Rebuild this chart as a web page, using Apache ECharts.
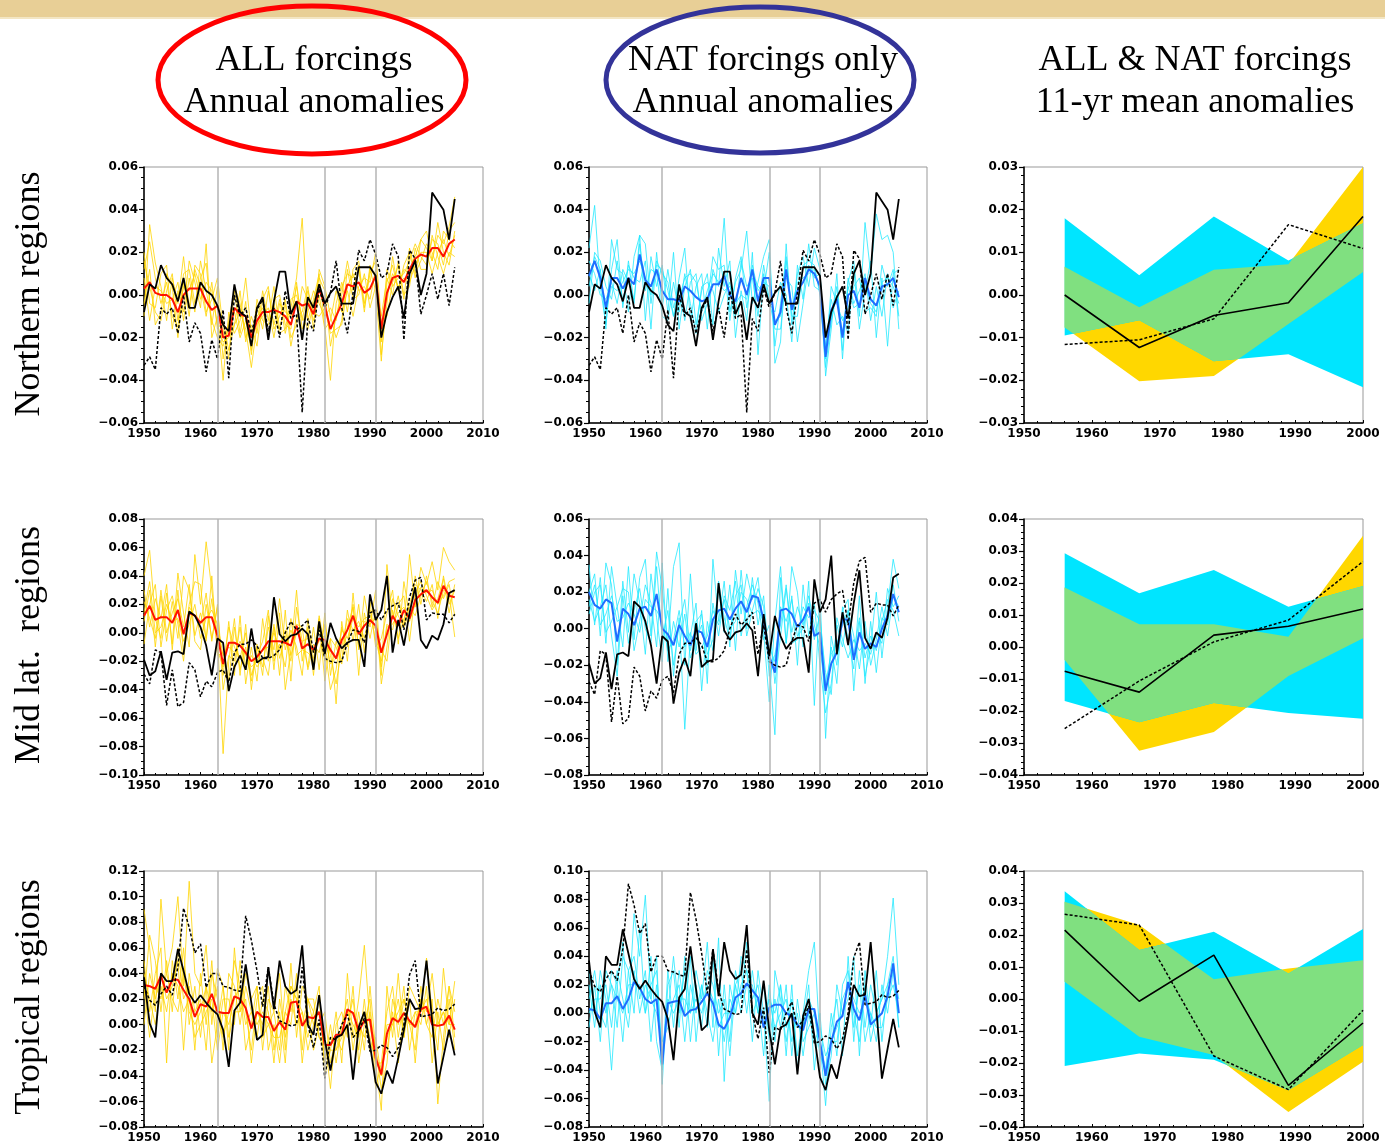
<!DOCTYPE html>
<html><head><meta charset="utf-8">
<script src="https://cdn.jsdelivr.net/npm/echarts@6/dist/echarts.min.js"></script>
<style>html,body{margin:0;padding:0;background:#fff}#chart{width:1385px;height:1146px}</style>
</head><body><div id="chart"></div>
<script>
// ---------- annual series (1950-2005) ----------
const years = Array.from({length:56},(_, i)=>1950+i);
const volcanoYears = [1963, 1982, 1991];

// Row 1: Northern regions
const r1ObsA = [-.008,.005,.003,.014,.008,.005,-.003,.008,-.006,-.006,
 .006,.002,.000,-.005,-.014,-.017,.005,-.008,-.010,-.024,
 -.006,-.001,-.021,-.003,.011,.011,-.009,-.003,-.021,-.001,
 -.006,.005,-.004,.001,.004,-.004,-.004,-.004,.013,.013,
 .013,.009,-.020,-.008,-.001,.004,-.011,.010,.016,.000,
 .010,.048,.044,.040,.026,.045];
const r1ObsB = [-.033,-.029,-.035,-.006,-.009,-.006,-.018,.000,-.022,-.013,
 -.018,-.036,-.021,-.030,-.007,-.039,.000,-.010,-.006,-.018,
 -.007,-.002,-.017,-.006,-.020,.002,-.011,-.009,-.055,-.011,
 -.017,.003,-.006,.001,.016,-.006,-.018,.001,.021,.016,
 .026,.019,.008,.010,.024,.018,-.021,.021,.017,-.009,
 .000,.010,-.002,.010,-.005,.013];
const r1AllMean = [.003,.006,.001,0,0,-.002,-.008,0,.003,.003,
 .003,-.003,-.007,-.005,-.020,-.019,-.006,-.009,-.010,-.020,
 -.012,-.008,-.008,-.007,-.008,-.010,-.014,-.003,-.005,-.004,
 -.009,.003,-.005,-.016,-.010,-.004,.005,.004,.006,.001,
 .003,.009,-.016,.001,.008,.009,.006,.012,.017,.019,
 .018,.022,.022,.018,.024,.026];
const r1All1 = [.012,.025,.008,-.004,.006,-.010,-.015,.010,.012,-.004,
 .008,.015,-.014,.004,-.030,-.012,.002,-.018,-.003,-.028,
 -.005,-.016,.002,-.014,-.002,-.018,-.006,.008,.036,-.012,
 -.002,.010,-.015,-.040,-.004,.006,-.008,.012,.016,-.006,
 .010,.016,-.028,-.004,.018,.002,.014,.020,.008,.026,
 .030,.016,.028,.024,.032,.046];
const r1All2 = [-.010,.033,.015,.004,-.012,.008,-.004,.018,-.006,.012,
 .004,-.010,.006,-.016,-.012,-.026,-.014,.002,-.022,-.010,
 -.018,.002,-.012,.004,-.016,-.004,-.024,-.010,-.008,.004,
 -.016,.012,.004,-.010,-.020,-.012,.012,-.002,.000,.010,
 -.006,.004,-.010,.008,.000,.016,.000,.004,.022,.012,
 .012,.028,.018,.010,.020,.018];
const r1All3 = [.020,-.004,-.006,.010,.014,-.016,.002,-.008,.016,.006,
 -.006,.024,-.020,-.010,-.040,-.008,-.018,-.012,.008,-.018,
 -.010,-.006,-.020,-.002,.000,-.014,-.016,.006,-.016,-.008,
 .002,-.004,-.010,-.006,-.012,.004,.010,.008,.014,-.004,
 .012,.002,-.031,.006,.014,.002,.012,.010,.018,.026,
 .022,.016,.034,.020,.014,.030];
const r1All4 = [-.004,.012,-.014,-.008,.010,.004,-.020,.006,-.010,.014,
 .010,-.008,-.002,.008,-.016,-.030,.004,-.004,-.020,-.014,
 -.024,-.002,.004,-.016,-.010,-.002,-.020,-.014,.004,-.002,
 -.012,.000,-.016,-.012,.002,-.008,.002,-.010,.004,.008,
 .006,.020,-.012,-.010,.006,.014,-.002,.022,.010,.016,
 .024,.020,.012,.030,.026,.022];
const r1All5 = [.008,-.012,.004,.002,-.004,-.002,.006,-.012,.008,-.008,
 .016,.002,-.012,-.020,-.024,-.014,-.008,-.020,-.012,-.026,
 -.002,-.012,-.014,-.004,-.018,-.016,-.002,.000,-.010,-.016,
 -.004,.008,.002,-.024,-.010,.000,.016,.002,.012,-.008,
 .014,.008,-.022,.012,.004,.008,.010,.016,.024,.018,
 .014,.026,.024,.014,.030,.034];
const r1All6 = [.016,.004,-.008,-.012,.002,.010,-.012,.004,.002,.010,
 -.002,.006,.002,-.014,-.022,-.020,-.014,-.008,-.016,-.034,
 -.014,-.010,-.006,-.020,-.004,-.008,-.010,.004,-.012,.002,
 -.008,-.010,-.006,-.018,-.016,-.014,.004,.010,.002,.004,
 -.002,.012,-.018,.000,.010,.004,.008,.006,.014,.020,
 .020,.010,.020,.026,.018,.028];
const r1NatMean = [.009,.016,.008,-.006,.008,.008,.003,.008,.005,.019,
 .007,.004,.012,.002,-.002,-.002,-.003,.004,.002,-.001,
 -.003,-.002,.005,.005,.009,.000,-.003,.008,.000,.012,
 -.003,.008,.008,-.014,-.008,.012,-.007,.002,.006,.012,
 .010,.004,-.029,-.007,-.002,-.020,.000,.002,-.006,.008,
 -.002,-.005,.004,.005,.008,-.001];
const r1Nat1 = [.022,.042,.004,-.014,.012,.026,-.006,.016,-.004,.028,
 .024,-.004,.016,.010,.006,-.010,.008,.022,-.012,.004,
 .010,-.016,.012,.004,.036,-.008,.006,.012,.030,-.004,
 .006,.018,.026,-.032,-.022,.024,-.014,.010,.018,.004,
 .022,.012,-.038,-.016,.010,-.030,.006,.016,-.010,.034,
 .010,.038,.026,.028,.020,-.016];
const r1Nat2 = [.010,.002,.012,-.016,.026,.012,.010,-.008,.018,.028,
 -.012,.018,.004,.014,-.008,.020,-.016,.004,.012,-.014,
 .002,.010,-.014,.022,.004,.016,-.020,.002,-.012,.020,
 -.028,.010,-.004,-.008,.006,.000,-.022,.014,-.002,.024,
 .004,.002,-.024,-.002,-.014,-.010,-.018,.012,-.016,.002,
 .016,-.020,.008,-.024,.010,.012];
const r1Nat3 = [-.004,.020,.016,.004,-.002,.016,-.004,.014,.008,.006,
 .016,-.016,.020,-.006,.012,-.006,.004,-.012,.006,.010,
 -.012,-.004,.018,.012,.014,-.012,.008,.018,-.006,.010,
 .004,.002,.020,-.024,-.004,.018,-.010,-.010,.014,.016,
 .014,.000,-.034,-.012,.004,-.026,.008,-.004,.002,.010,
 -.012,.004,-.010,.010,-.006,.002];
const r1Nat4 = [.016,.010,.000,-.002,.006,-.004,.012,.006,-.002,.024,
 .002,.012,.010,-.010,-.012,.006,-.008,.010,-.004,-.018,
 .004,.006,.002,-.008,.000,.006,-.010,.016,.004,.008,
 -.010,.014,-.002,-.016,-.016,.008,.004,-.022,-.004,.014,
 .008,.010,-.030,.004,-.004,-.012,-.006,.004,.008,-.008,
 -.006,-.010,.014,.004,.012,-.010];
const r1Nat5 = [.004,.018,.012,-.008,.004,.002,.006,.012,.010,.016,
 .008,.000,.014,.012,.002,-.010,-.002,.008,.010,.006,
 -.008,.002,.010,.006,.002,.004,-.004,.000,-.002,.014,
 .002,.006,.004,-.012,-.010,.016,-.006,.006,.008,.010,
 .012,.002,-.026,-.012,.000,-.018,.004,-.006,-.004,.006,
 -.004,-.008,.006,.008,.004,-.004];

// Row 2: Mid latitude regions
const r2ObsA = [-.019,-.030,-.027,-.013,-.033,-.014,-.013,-.015,.015,.012,
 .004,-.009,-.030,-.004,-.007,-.041,-.024,-.016,-.026,.003,
 -.021,-.018,-.017,.025,-.001,-.006,-.002,-.001,.003,-.001,
 -.026,.008,-.015,.007,-.004,-.011,-.007,-.005,-.005,-.024,
 .027,.009,.016,.040,-.014,.009,-.009,.014,.032,-.005,
 -.011,-.002,-.005,.006,.028,.030];
const r2ObsB = [-.029,-.036,-.012,-.014,-.051,-.026,-.052,-.049,-.021,-.026,
 -.045,-.034,-.038,-.028,-.026,-.035,-.014,-.008,-.008,-.005,
 -.009,-.018,-.018,-.016,-.012,.000,.008,.002,.005,.009,
 -.014,.002,-.018,-.020,-.021,-.020,-.007,.002,.001,-.007,
 .014,.016,.009,.016,.019,.021,.002,.025,.037,.039,
 .009,.014,.013,.013,.007,.013];
const r2AllMean = [.012,.019,.009,.011,.011,.007,.016,-.001,.014,.012,
 .007,.011,.011,-.002,-.022,-.007,-.007,-.009,-.014,-.020,
 -.017,-.012,-.006,-.006,-.006,-.007,-.009,.005,-.011,-.008,
 -.012,-.004,-.005,-.012,-.018,-.005,.002,.012,-.001,.005,
 .009,.005,-.014,-.001,.012,.005,.016,.010,.023,.027,
 .030,.025,.021,.033,.026,.025];
const r2All1 = [.040,.058,.010,-.004,.028,-.008,.042,.014,-.010,.055,
 .020,.064,.030,-.002,-.085,-.020,.010,-.030,.006,-.040,
 -.008,-.030,.012,-.026,.014,-.040,-.012,.030,-.020,.004,
 -.030,.010,-.034,-.004,-.050,.008,-.020,.028,-.012,.026,
 .004,.030,-.030,.048,.010,.026,.004,.055,.018,.046,
 .034,.050,.030,.060,.050,.044];
const r2All2 = [.008,.030,-.010,.026,-.006,.022,-.004,.040,.030,-.006,
 -.012,.020,-.004,.018,-.030,.008,-.030,.012,-.036,-.010,
 -.034,.010,-.020,.006,-.030,.016,-.034,.018,-.006,-.024,
 .004,-.026,.014,-.030,-.006,-.020,.016,-.006,.020,-.014,
 .022,-.010,-.004,.014,.030,-.008,.036,.012,.040,.020,
 .040,.018,.036,.024,.034,.012];
const r2All3 = [.030,.004,.024,.010,.034,-.012,.030,-.014,.020,.036,
 .034,-.006,.040,-.016,-.014,-.034,.004,-.026,-.010,-.034,
 -.010,-.024,.004,-.012,.024,-.012,.002,-.010,-.030,.010,
 -.022,.012,-.010,-.040,-.026,.004,-.010,.020,-.030,.014,
 -.004,.016,-.036,-.010,.024,.012,.004,.020,.034,.030,
 .022,.034,.010,.040,.020,.030];
const r2All4 = [-.008,.020,.034,-.010,.016,.026,.006,-.020,.018,.012,
 .006,.028,-.006,.020,-.040,-.016,-.020,.004,-.024,-.016,
 -.024,-.018,-.030,.004,-.018,-.002,-.020,.006,.004,-.026,
 -.008,-.014,.006,-.016,-.036,-.010,.010,.002,.008,-.004,
 .016,-.006,-.020,.006,.002,.020,.026,-.006,.028,.036,
 .026,.016,.024,.038,.014,.034];
const r2All5 = [.022,.010,-.004,.030,.000,.014,.024,.004,.034,-.002,
 .014,-.004,.024,-.012,-.024,.004,-.010,-.018,.000,-.030,
 -.016,-.006,.016,-.020,-.008,-.024,.010,-.016,-.012,-.014,
 -.018,.004,-.020,-.004,-.010,-.022,.004,.018,-.010,.008,
 .006,.010,-.012,-.020,.016,-.004,.010,.018,.012,.026,
 .036,.022,.014,.030,.028,-.003];
const r2All6 = [.014,.036,.000,.004,.020,.008,.010,-.006,.006,.020,
 -.004,.010,.016,.006,-.016,-.010,-.014,-.006,-.016,-.024,
 -.020,-.012,-.010,.000,-.012,.002,-.016,.000,-.006,-.004,
 -.014,-.006,-.002,-.022,-.018,.002,-.004,.010,.004,.010,
 .012,.002,-.024,.004,.006,.014,.018,.008,.020,.032,
 .028,.030,.020,.026,.036,.038];
const r2NatMean = [.020,.013,.011,.016,.014,-.007,.011,.008,.002,.011,
 .012,.007,.019,.000,-.003,-.009,.002,-.004,-.009,-.001,
 -.002,-.010,.005,.010,.011,.005,.011,.015,.009,.018,
 .017,.005,-.015,-.024,.010,.011,.008,.001,.005,.012,
 -.004,-.002,-.034,-.019,-.013,.005,.005,-.017,-.002,-.011,
 -.008,-.010,.000,.007,.019,.009];
const r2Nat1 = [.035,.002,.028,-.008,.034,.012,-.010,.034,-.006,.028,
 .038,-.004,.042,.022,-.008,.034,.047,-.020,.030,-.012,
 .010,-.030,.038,.004,.026,-.010,.032,.008,.030,.016,
 .028,-.002,-.040,.004,.034,-.008,.034,.020,-.010,.026,
 -.042,.020,-.060,-.004,-.020,.010,.016,-.034,.004,-.026,
 -.010,.020,-.016,.012,.038,.022];
const r2Nat2 = [.020,.030,-.004,.036,.024,-.020,.026,-.002,.030,.014,
 -.014,.030,.006,-.018,.022,-.026,.006,-.055,-.004,.014,
 -.034,.004,-.012,.022,-.002,.024,-.012,.032,.000,.028,
 .002,.018,-.020,-.058,.028,-.008,.018,-.020,.024,-.004,
 .014,-.020,-.046,-.030,.002,-.010,.010,-.004,-.022,.004,
 -.020,-.006,.012,-.004,.018,.012];
const r2Nat3 = [.008,.020,.024,-.002,.004,.012,.022,.020,-.012,.004,
 .024,.014,-.010,.036,-.018,.004,-.010,.008,-.016,-.006,
 .002,-.020,.014,-.004,.018,.010,.026,-.004,.012,.024,
 .014,-.006,.002,-.030,-.004,.022,-.002,.012,.002,.018,
 .002,-.010,-.036,-.010,-.030,.012,-.006,-.022,.018,-.030,
 .004,-.024,.004,.016,.010,-.004];
const r2Nat4 = [.016,.004,.012,.024,-.004,-.026,.018,-.008,.010,.022,
 .000,-.008,.034,-.006,.010,-.020,.002,.016,-.012,.004,
 .008,-.014,-.006,.026,.006,-.006,.018,.024,-.004,.010,
 .022,.012,-.026,-.014,.002,.024,-.008,-.006,.012,.006,
 .010,.004,-.024,-.036,.006,-.006,-.016,-.006,-.012,-.008,
 -.014,-.002,-.008,.022,.012,.018];
const r2Nat5 = [.012,.024,.002,.008,.018,.004,.006,.014,.008,-.002,
 .016,.012,.010,.004,-.012,-.006,.010,-.010,-.002,-.014,
 -.010,-.004,.010,.002,.016,.000,.004,.020,.016,.008,
 .010,.004,-.010,-.018,.012,.004,.016,-.004,.000,.014,
 -.006,.008,-.030,-.014,-.008,.002,.010,-.014,.006,-.016,
 -.004,-.012,.006,.002,.024,.004];

// Row 3: Tropical regions
const r3ObsA = [.037,.001,-.010,.040,.034,.034,.059,.042,.024,.017,
 .023,.017,.012,.008,-.004,-.033,.011,.017,.047,.017,
 -.012,-.008,.045,.012,.050,.030,.024,.027,.062,.000,
 -.008,.023,-.012,-.036,-.010,-.008,.000,-.043,-.002,.010,
 -.016,-.045,-.054,-.036,-.046,-.026,-.004,.020,.012,.013,
 .050,.003,-.046,-.025,-.004,-.024];
const r3ObsB = [.030,.019,.015,.024,.030,.023,.045,.091,.076,.056,
 .063,.029,.040,.040,.030,.029,.027,.026,.085,.066,
 .042,.014,.045,.016,.003,.001,-.001,.000,.045,.000,
 -.018,.004,-.042,-.010,-.012,.000,.008,-.010,-.005,.005,
 -.021,-.020,-.016,-.018,-.025,-.018,.000,.039,.050,.006,
 .007,.008,.013,.011,.012,.016];
const r3AllMean = [.031,.030,.028,.038,.025,.035,.035,.027,.020,.006,
 .016,.014,.024,.010,.009,.009,.022,.020,.013,-.003,
 .010,.006,.006,-.005,.002,-.004,.017,.018,-.001,.006,
 .005,.010,-.016,-.016,-.008,-.008,.012,.009,-.005,.003,
 .004,-.026,-.039,-.007,.005,.002,.009,.003,-.002,.012,
 .014,.000,-.001,.000,.007,-.004];
const r3All1 = [.090,.060,.010,.098,.040,.060,.100,.030,.112,.040,
 .030,.062,.000,.044,.030,-.020,.060,.010,.040,.020,
 .030,-.020,.020,.010,.040,-.020,.048,-.010,.030,.020,
 .010,.030,-.040,-.020,.010,-.030,.040,-.010,.020,.062,
 .000,-.030,-.067,.030,-.010,.040,-.010,.030,.020,.010,
 .052,.010,-.020,.044,.000,.034];
const r3All2 = [.020,.070,.050,.010,.050,.010,.060,.020,.030,-.020,
 .040,.000,.050,-.010,.020,.020,.000,.050,.010,-.020,
 .020,.030,-.020,.000,-.030,.010,.000,.040,-.020,.020,
 .020,-.010,-.010,-.050,.000,.010,-.010,.030,-.030,.000,
 .020,-.050,-.030,.010,.030,-.010,.020,.000,-.020,.030,
 .000,.020,-.062,-.010,.030,.010];
const r3All3 = [.050,.010,.040,.060,-.030,.050,.020,.060,.000,.030,
 -.010,.030,.010,.030,-.020,.040,.030,.000,.030,.010,
 -.010,.020,.010,-.030,.020,-.010,.020,.000,.010,-.020,
 .000,.020,-.030,.000,-.030,.000,.020,-.020,.010,-.020,
 .030,-.020,-.050,-.030,.020,.000,.030,-.020,.010,.000,
 .030,-.030,.010,-.020,.020,-.020];
const r3All4 = [.000,.040,.020,.040,.020,.030,.050,-.020,.040,.010,
 .020,-.020,.040,.020,-.010,.010,.050,.030,-.020,.000,
 .030,-.010,.000,.010,-.020,.030,.010,.030,-.030,.010,
 -.020,.000,.010,-.030,-.010,-.020,.000,.020,-.020,.020,
 -.020,-.010,-.040,.000,.000,.020,-.010,.020,-.030,.020,
 .010,.040,.000,.010,-.010,.020];
const r3All5 = [.030,-.010,.030,.020,.040,.020,.010,.040,.010,.000,
 .010,.030,-.030,.000,.030,-.010,.010,.010,.020,-.030,
 .010,.000,.030,-.020,.010,-.030,.030,.020,.010,-.010,
 .010,-.010,-.020,-.010,-.020,.000,.010,.000,-.010,.010,
 -.010,-.030,-.030,-.020,.010,-.030,.010,.000,.000,.020,
 .000,-.010,.020,.000,.030,-.010];
const r3All6 = [.040,.020,.000,.030,.010,.040,.030,.010,.020,-.010,
 .000,.010,.020,-.020,.010,.000,.020,.030,.000,.010,
 .000,.010,.000,-.010,-.010,.010,.030,.020,.000,.020,
 .000,.010,-.020,-.020,-.020,-.010,.010,.010,.000,-.010,
 .010,-.020,-.040,-.010,.000,.010,.020,.000,.010,.010,
 .020,.000,.000,.010,.000,.000];
const r3NatMean = [.003,.002,-.004,.007,.007,.012,.003,.010,.022,.018,
 .010,.007,.010,-.036,.007,.008,.009,-.002,.002,.003,
 .008,.014,.007,-.008,-.011,-.003,.011,.014,.021,.016,
 .011,-.010,.004,.006,.006,.000,-.002,-.008,-.012,.003,
 .003,-.020,-.044,-.020,-.006,-.002,.022,.003,-.005,.013,
 -.008,-.004,.000,.012,.035,.000];
const r3Nat1 = [.020,-.010,.030,.010,-.040,.020,.050,.000,.070,.040,
 .083,.010,.040,-.050,.020,.030,-.010,.040,.000,.030,
 .010,.050,-.010,.053,-.048,.020,.000,.040,.030,-.020,
 .030,.000,-.062,.030,.010,-.020,.010,-.030,.000,.030,
 .050,-.020,-.065,-.010,.010,-.030,.040,-.020,.030,-.010,
 .020,.000,.010,.040,.081,.020];
const r3Nat2 = [-.010,.020,-.020,.030,.020,-.010,.040,.030,.000,.060,
 .000,.040,-.020,-.040,.030,-.010,.030,.000,.040,-.020,
 .020,-.010,.040,-.030,.020,-.020,.030,.010,.050,.000,
 .010,-.030,.020,-.020,.020,-.030,.020,-.040,-.010,.020,
 -.040,.000,-.050,-.030,.020,.000,.010,.040,-.030,.030,
 -.010,.030,-.020,.020,.040,-.010];
const r3Nat3 = [.010,.030,.000,-.010,.030,.020,-.020,.030,.040,.010,
 .030,-.020,.020,-.030,.000,.040,.000,.030,-.020,.020,
 -.010,.030,.020,.000,.010,-.030,.020,.030,.000,.030,
 .000,.020,-.020,.010,-.010,.020,-.030,.010,-.020,-.010,
 .000,-.030,-.040,.000,-.030,.020,.030,-.010,.020,-.020,
 .000,-.020,.020,.000,.030,.010];
const r3Nat4 = [.000,.010,.010,.020,-.010,.030,.010,-.010,.030,.000,
 .020,.010,.000,-.020,-.010,.010,.020,-.020,.020,.000,
 .020,.000,-.020,.010,-.020,.010,.000,.020,.030,.010,
 .020,-.010,.010,-.010,.000,.010,-.020,.000,-.030,.000,
 -.020,-.010,-.030,-.020,-.020,.010,.020,.000,-.020,.020,
 -.020,.000,.010,.020,.030,-.010];
const r3Nat5 = [.030,.000,.020,.000,.020,.010,.000,.020,.020,.020,
 .000,.020,.030,-.030,.010,.000,.010,.010,.000,.010,
 .000,.020,.010,-.010,.000,.000,.020,.000,.020,.020,
 .000,.000,.010,.000,.020,-.010,.000,-.010,-.010,.010,
 .000,-.020,-.040,-.020,-.010,.000,.020,.010,.000,.010,
 .000,-.010,-.010,.010,.020,.000];

// ---------- 11-yr mean series ----------
const decadeYears = [1956, 1967, 1978, 1989, 2000];
const r1AllLo = [-.0076,-.0202,-.0190,-.0068,.0054];
const r1AllHi = [.0066,-.0029,.0059,.0072,.0300];
const r1NatLo = [-.0095,-.0059,-.0155,-.0139,-.0216];
const r1NatHi = [.0180,.0046,.0184,.0081,.0168];
const r1DecObsA = [.0000,-.0123,-.0048,-.0018,.0184];
const r1DecObsB = [-.0116,-.0105,-.0056,.0165,.0109];
const r2AllLo = [-.0041,-.0324,-.0266,-.0091,.0027];
const r2AllHi = [.0186,.0071,.0071,.0032,.0348];
const r2NatLo = [-.0169,-.0235,-.0175,-.0206,-.0224];
const r2NatHi = [.0293,.0168,.0241,.0126,.0191];
const r2DecObsA = [-.0076,-.0141,.0037,.0065,.0119];
const r2DecObsB = [-.0255,-.0106,.0016,.0084,.0267];
const r3AllLo = [.0054,-.0118,-.0175,-.0353,-.0196];
const r3AllHi = [.0304,.0231,.0062,.0095,.0121];
const r3NatLo = [-.0209,-.0170,-.0190,-.0285,-.0144];
const r3NatHi = [.0337,.0153,.0210,.0080,.0219];
const r3DecObsA = [.0215,-.0007,.0137,-.0270,-.0075];
const r3DecObsB = [.0265,.0231,-.0178,-.0283,-.0035];

// ---------- labels ----------
const colTitles = [['ALL forcings','Annual anomalies'],['NAT forcings only','Annual anomalies'],['ALL & NAT forcings','11-yr mean anomalies']];
const rowTitles = ['Northern regions','Mid lat.  regions','Tropical regions'];
// y axis ranges [min, max, interval] per panel (row-major)
const yRanges = [[-0.06,0.06,0.02],[-0.06,0.06,0.02],[-0.03,0.03,0.01],
                 [-0.10,0.08,0.02],[-0.08,0.06,0.02],[-0.04,0.04,0.01],
                 [-0.08,0.12,0.02],[-0.08,0.10,0.02],[-0.04,0.04,0.01]];

const rows = [
 {obsA:r1ObsA, obsB:r1ObsB, allMean:r1AllMean, all:[r1All1,r1All2,r1All3,r1All4,r1All5,r1All6], natMean:r1NatMean, nat:[r1Nat1,r1Nat2,r1Nat3,r1Nat4,r1Nat5],
  allLo:r1AllLo, allHi:r1AllHi, natLo:r1NatLo, natHi:r1NatHi, dA:r1DecObsA, dB:r1DecObsB},
 {obsA:r2ObsA, obsB:r2ObsB, allMean:r2AllMean, all:[r2All1,r2All2,r2All3,r2All4,r2All5,r2All6], natMean:r2NatMean, nat:[r2Nat1,r2Nat2,r2Nat3,r2Nat4,r2Nat5],
  allLo:r2AllLo, allHi:r2AllHi, natLo:r2NatLo, natHi:r2NatHi, dA:r2DecObsA, dB:r2DecObsB},
 {obsA:r3ObsA, obsB:r3ObsB, allMean:r3AllMean, all:[r3All1,r3All2,r3All3,r3All4,r3All5,r3All6], natMean:r3NatMean, nat:[r3Nat1,r3Nat2,r3Nat3,r3Nat4,r3Nat5],
  allLo:r3AllLo, allHi:r3AllHi, natLo:r3NatLo, natHi:r3NatHi, dA:r3DecObsA, dB:r3DecObsB}
];

// ---------- layout ----------
const colLeft = [144, 589, 1024], colWidth = [339, 338, 339];
const rowTop = [167, 519, 871], rowHeight = [256, 256, 256];
const COL = {yellow:'#FFD400', red:'#FF1200', cyan:'#22E8FF', blue:'#1E6EFF', bandAll:'#FFD700', bandNat:'#00E5FF', bandBoth:'#80E080'};

const fmt = v => Math.abs(v) < 1e-9 ? '0.00' : (v < 0 ? '\u2212' : '') + Math.abs(v).toFixed(2);
const labelFont = {fontFamily:'DejaVu Sans', fontWeight:'bold', fontSize:12, color:'#000'};

const grids = [], xAxes = [], yAxes = [], series = [];
for (let r = 0; r < 3; r++) for (let c = 0; c < 3; c++) {
  const idx = r*3 + c, yr = yRanges[idx];
  grids.push({left:colLeft[c], top:rowTop[r], width:colWidth[c], height:rowHeight[r], show:true, borderColor:'#999', borderWidth:1, containLabel:false});
  xAxes.push({type:'value', gridIndex:idx, min:1950, max: c===2 ? 2000 : 2010, interval:10,
    axisLine:{show:true, onZero:false, lineStyle:{color:'#000', width:1.5}},
    axisTick:{show:true, inside:true, length:3, lineStyle:{color:'#000', width:1}},
    minorTick:{show:true, splitNumber:5, length:2, lineStyle:{color:'#000', width:1}},
    splitLine:{show:false}, minorSplitLine:{show:false},
    axisLabel:Object.assign({margin:5, formatter: v => String(v)}, labelFont)});
  yAxes.push({type:'value', gridIndex:idx, min:yr[0], max:yr[1], interval:yr[2],
    axisLine:{show:true, onZero:false, lineStyle:{color:'#000', width:1.5}},
    axisTick:{show:true, length:5, lineStyle:{color:'#000', width:1.2}},
    minorTick:{show:true, splitNumber: c===2 ? 5 : 4, length:3, lineStyle:{color:'#000', width:1}},
    splitLine:{show:false}, minorSplitLine:{show:false},
    axisLabel:Object.assign({margin:6, formatter: fmt}, labelFont)});
}

function line(idx, xs, vals, color, width, type, z) {
  return {type:'line', xAxisIndex:idx, yAxisIndex:idx, data: xs.map((x,i)=>[x, vals[i]]),
    symbol:'none', showSymbol:false, silent:true, animation:false, z:z,
    lineStyle:{color:color, width:width, type:type||'solid'}};
}
function volcano(idx) {
  return {type:'line', xAxisIndex:idx, yAxisIndex:idx, data:[], silent:true, animation:false, z:1,
    markLine:{silent:true, symbol:'none', animation:false, label:{show:false},
      lineStyle:{color:'#b4b4b4', width:1.5, type:'solid'}, data: volcanoYears.map(y=>({xAxis:y}))}};
}
// envelope of two polylines with crossing points (pick = Math.min / Math.max)
function envelope(xs, a, b, pick) {
  const out = [];
  for (let i = 0; i < xs.length; i++) {
    out.push([xs[i], pick(a[i], b[i])]);
    if (i < xs.length - 1) {
      const d1 = a[i]-b[i], d2 = a[i+1]-b[i+1];
      if (d1*d2 < 0) {
        const t = d1/(d1-d2);
        out.push([xs[i] + t*(xs[i+1]-xs[i]), a[i] + t*(a[i+1]-a[i])]);
      }
    }
  }
  return out;
}
function band(idx, upper, lower, color, z) {
  return {type:'custom', xAxisIndex:idx, yAxisIndex:idx, silent:true, animation:false, z:z,
    data:[[upper[0][0], upper[0][1]]],
    renderItem: function(params, api) {
      const pts = upper.map(p => api.coord(p)).concat(lower.slice().reverse().map(p => api.coord(p)));
      return {type:'polygon', shape:{points:pts}, style:{fill:color}};
    }};
}

rows.forEach((d, r) => {
  const iAll = r*3, iNat = r*3+1, iDec = r*3+2;
  series.push(volcano(iAll));
  d.all.forEach(m => series.push(line(iAll, years, m, COL.yellow, 0.8, 'solid', 2)));
  series.push(line(iAll, years, d.allMean, COL.red, 2, 'solid', 3));
  series.push(line(iAll, years, d.obsB, '#000', 1.5, [3,2], 4));
  series.push(line(iAll, years, d.obsA, '#000', 1.8, 'solid', 5));

  series.push(volcano(iNat));
  d.nat.forEach(m => series.push(line(iNat, years, m, COL.cyan, 0.8, 'solid', 2)));
  series.push(line(iNat, years, d.natMean, COL.blue, 2, 'solid', 3));
  series.push(line(iNat, years, d.obsB, '#000', 1.5, [3,2], 4));
  series.push(line(iNat, years, d.obsA, '#000', 1.8, 'solid', 5));

  const xy = arr => decadeYears.map((x,i)=>[x, arr[i]]);
  series.push(band(iDec, xy(d.allHi), xy(d.allLo), COL.bandAll, 1));
  series.push(band(iDec, xy(d.natHi), xy(d.natLo), COL.bandNat, 2));
  series.push(band(iDec, envelope(decadeYears, d.allHi, d.natHi, Math.min), envelope(decadeYears, d.allLo, d.natLo, Math.max), COL.bandBoth, 3));
  series.push(line(iDec, decadeYears, d.dB, '#000', 1.5, [3,2], 4));
  series.push(line(iDec, decadeYears, d.dA, '#000', 1.6, 'solid', 5));
});

// ---------- decorations ----------
const serif = '"Liberation Serif", "DejaVu Serif", serif';
const graphic = [
  {type:'rect', shape:{x:0, y:0, width:1385, height:17}, style:{fill:'#E8CF96'}, z:0},
  {type:'rect', shape:{x:0, y:17, width:1385, height:2}, style:{fill:'#F3E6C4'}, z:0}
];
const titleX = [314, 763, 1195];
colTitles.forEach((t, c) => {
  graphic.push({type:'text', x:titleX[c], y:61, z:10, style:{text:t[0], font:'36px ' + serif, fill:'#000', align:'center', verticalAlign:'middle'}});
  graphic.push({type:'text', x:titleX[c], y:103, z:10, style:{text:t[1], font:'36px ' + serif, fill:'#000', align:'center', verticalAlign:'middle'}});
});
graphic.push({type:'ellipse', shape:{cx:312, cy:80, rx:154, ry:74}, style:{fill:null, stroke:'#FF0000', lineWidth:5}, z:11});
graphic.push({type:'ellipse', shape:{cx:760, cy:80, rx:154, ry:73}, style:{fill:null, stroke:'#333399', lineWidth:5}, z:11});
const rowLabelY = [294, 645, 997];
rowTitles.forEach((t, r) => {
  graphic.push({type:'text', x:30, y:rowLabelY[r], rotation:Math.PI/2, z:10,
    style:{text:t, font:'36px ' + serif, fill:'#000', align:'center', verticalAlign:'middle'}});
});

const chart = echarts.init(document.getElementById('chart'), null, {renderer:'canvas'});
chart.setOption({animation:false, backgroundColor:'#fff', grid:grids, xAxis:xAxes, yAxis:yAxes, series:series, graphic:graphic});
</script></body></html>
